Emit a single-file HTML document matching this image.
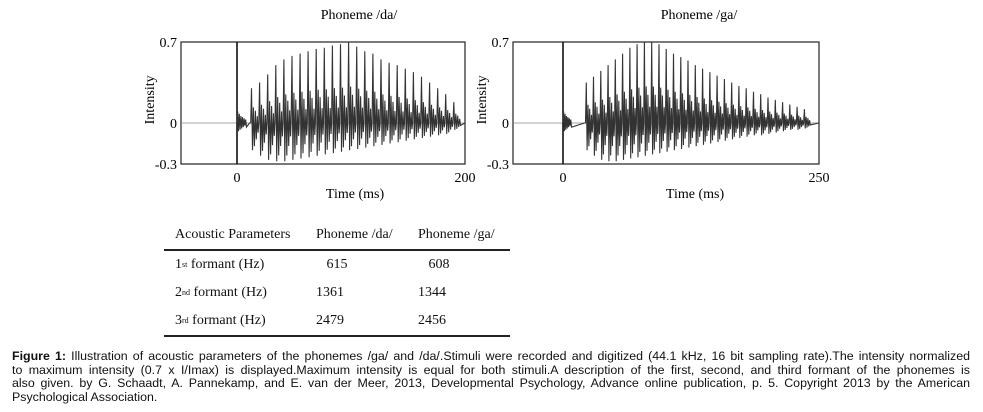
<!DOCTYPE html>
<html><head><meta charset="utf-8"><style>
body{margin:0;background:#fff;width:983px;height:412px;overflow:hidden;position:relative;font-family:"Liberation Serif",serif;color:#111}
.cap{position:absolute;left:12px;top:350px;width:958px;font-family:"Liberation Sans",sans-serif;font-size:12.4px;line-height:13.6px;color:#111}
.cap span{display:block;white-space:nowrap;text-align:justify;text-align-last:justify}
.cap span.last{text-align-last:left}
table{position:absolute;left:164px;top:221px;border-collapse:collapse;font-size:14px}
td{padding:0;height:27.5px}
</style></head><body>
<svg width="983" height="345" style="position:absolute;left:0;top:0" id="svg" font-family="Liberation Serif, serif" font-size="14"></svg>
<table>
<tr style="border-bottom:2px solid #222"><td style="width:141px;padding-left:11px;height:25px">Acoustic Parameters</td><td style="width:102px">Phoneme /da/</td><td style="width:92px">Phoneme /ga/</td></tr>
<tr><td style="padding-left:11px;height:29px">1<sup style="font-size:8px;vertical-align:1px">st</sup> formant (Hz)</td><td>&nbsp;&nbsp;&nbsp;615</td><td>&nbsp;&nbsp;&nbsp;608</td></tr>
<tr><td style="padding-left:11px">2<sup style="font-size:8px;vertical-align:1px">nd</sup> formant (Hz)</td><td>1361</td><td>1344</td></tr>
<tr style="border-bottom:2px solid #222"><td style="padding-left:11px;height:28px">3<sup style="font-size:8px;vertical-align:1px">rd</sup> formant (Hz)</td><td>2479</td><td>2456</td></tr>
</table>
<div class="cap"><span style="white-space:normal"><b>Figure 1:</b> Illustration of acoustic parameters of the phonemes /ga/ and /da/.Stimuli were recorded and digitized (44.1 kHz, 16 bit sampling rate).The intensity normalized</span><span style="white-space:normal">to maximum intensity (0.7 x I/Imax) is displayed.Maximum intensity is equal for both stimuli.A description of the first, second, and third formant of the phonemes is</span><span style="white-space:normal">also given. by G. Schaadt, A. Pannekamp, and E. van der Meer, 2013, Developmental Psychology, Advance online publication, p. 5. Copyright 2013 by the American</span><span class="last">Psychological Association.</span></div>
<script>
const daPeaks=[0.3,0.35,0.42,0.5,0.55,0.58,0.6,0.62,0.64,0.65,0.67,0.68,0.7,0.66,0.62,0.6,0.55,0.52,0.5,0.47,0.44,0.4,0.35,0.3,0.25,0.18];
const daTroughs=[0.2,0.24,0.27,0.28,0.28,0.27,0.26,0.25,0.24,0.23,0.22,0.21,0.2,0.19,0.18,0.17,0.16,0.15,0.14,0.13,0.12,0.11,0.1,0.09,0.08,0.05];
const daStart=12, daPeriod=7.1, daMax=200;
const gaPeaks=[0.35,0.4,0.45,0.5,0.55,0.6,0.65,0.68,0.7,0.7,0.68,0.64,0.6,0.57,0.54,0.5,0.47,0.44,0.41,0.38,0.35,0.32,0.3,0.27,0.25,0.22,0.2,0.18,0.16,0.14,0.12];
const gaTroughs=[0.2,0.24,0.27,0.28,0.28,0.27,0.26,0.25,0.24,0.23,0.22,0.21,0.2,0.19,0.18,0.17,0.16,0.15,0.14,0.13,0.12,0.11,0.1,0.09,0.09,0.08,0.07,0.06,0.05,0.05,0.04];
const gaStart=22, gaPeriod=7.1, gaMax=250;
const yTicks=[0.7,0,-0.3];
const svg=document.getElementById('svg');
const NS='http://www.w3.org/2000/svg';
function mk(tag,attrs,name){const e=document.createElementNS(NS,tag);for(const k in attrs)e.setAttribute(k,attrs[k]);


svg.appendChild(e);return e;}
function chart(o){
 const x=t=>o.x0+(t/o.tmax)*(o.x1-o.x0);
 const z=123;
 const y=v=>v>=0?z-(v/0.7)*(z-o.top):z+(-v/0.3)*(o.bot-z);
 mk('rect',{x:o.bl,y:o.top,width:o.x1-o.bl,height:o.bot-o.top,fill:'none',stroke:'#333','stroke-width':1.3},o.id+'-plot-frame');
 mk('line',{x1:o.bl,x2:o.x1,y1:y(0),y2:y(0),stroke:'#888','stroke-width':0.8},o.id+'-zero-line');
 mk('line',{x1:x(0),x2:x(0),y1:o.top,y2:o.bot,stroke:'#111','stroke-width':1.6},o.id+'-onset-line');
 yTicks.forEach(v=>{const t=mk('text',{x:o.bl-4,y:y(v)+5,'text-anchor':'end'},o.id+'-y-tick');t.textContent=v;});
 [[0,'0'],[o.tmax,String(o.tmax)]].forEach(([v,s])=>{const t=mk('text',{x:x(v),y:o.bot+18,'text-anchor':'middle'},o.id+'-x-tick');t.textContent=s;});
 const xt=mk('text',{x:(o.x0+o.x1)/2+4,y:o.bot+34,'text-anchor':'middle'},o.id+'-x-axis-title');xt.textContent='Time (ms)';
 const tt=mk('text',{x:(o.x0+o.x1)/2+8,y:19,'text-anchor':'middle'},o.id+'-chart-title');tt.textContent=o.title;
 const yl=mk('text',{x:0,y:0,'text-anchor':'middle',transform:`translate(${o.bl-27},${y(0.2)}) rotate(-90)`},o.id+'-y-axis-title');yl.textContent='Intensity';
 let d=`M${x(0)},${y(0)}`;
 const burst=[0.1,-0.06,0.08,-0.05,0.06,-0.04,0.05,-0.03,0.04,-0.02,0.03,-0.03];
 burst.forEach((v,i)=>{d+=` L${x(0.6+i*0.7)},${y(v)}`;});
 d+=` L${x(o.start-1)},${y(0)}`;
 const sh=[[0,0],[0.1,1],[0.22,-1],[0.34,0.45],[0.46,-0.85],[0.58,0.35],[0.7,-0.6],[0.82,0.2],[0.92,-0.35]];
 o.peaks.forEach((a,i)=>{const t0=o.start+i*o.period;const b=o.troughs[i];
  sh.forEach(([f,m])=>{const v=m>0?m*a:m*b; d+=` L${x(t0+f*o.period).toFixed(1)},${y(v).toFixed(1)}`;});});
 d+=` L${x(o.tmax)},${y(0)}`;
 mk('path',{d:d,fill:'none',stroke:'#333','stroke-width':1.1},o.id+'-waveform');
}
chart({id:'da',title:'Phoneme /da/',bl:181,x0:237,x1:465,top:42,bot:164,tmax:daMax,peaks:daPeaks,troughs:daTroughs,start:daStart,period:daPeriod});
chart({id:'ga',title:'Phoneme /ga/',bl:513,x0:563,x1:819,top:42,bot:164,tmax:gaMax,peaks:gaPeaks,troughs:gaTroughs,start:gaStart,period:gaPeriod});
</script>
</body></html>
